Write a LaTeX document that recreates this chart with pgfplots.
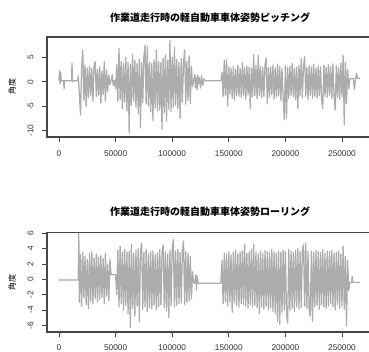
\documentclass[border=0pt]{standalone}
\usepackage{fontspec}
\setmainfont{Liberation Sans}
\newfontfamily\cjk{Noto Sans CJK JP}
\usepackage{pgfplots}
\pgfplotsset{compat=1.18}
\definecolor{sig}{RGB}{172,172,172}
\definecolor{axc}{RGB}{70,70,70}
\pgfplotsset{rstyle/.style={
 scale only axis, width=326bp, height=100bp, anchor=south west,
 axis lines=box, clip mode=individual,
 axis line style={draw=axc, line width=1.2bp},
 tick style={draw=axc, line width=0.7bp},
 tick align=outside, xtick pos=bottom, ytick pos=left, major tick length=5bp,
 scaled x ticks=false, scaled y ticks=false,
 ticklabel style={font=\fontsize{8.3bp}{9bp}\selectfont, text=black!80},
 xticklabel style={yshift=-5bp},
 yticklabel style={rotate=90, anchor=south, yshift=5bp},
 xmin=-10600, xmax=277400,
 xtick={0,50000,100000,150000,200000,250000},
 xticklabels={0,50000,100000,150000,200000,250000},
 title style={font=\cjk\bfseries\fontsize{10bp}{12bp}\selectfont, at={(axis description cs:0.5,1)}, anchor=center, yshift=13bp},
 ylabel style={font=\cjk\fontsize{8bp}{9bp}\selectfont, at={(axis description cs:0,0.5)}, anchor=center, yshift=35bp},
 sigline/.style={color=sig, line width=1.25bp, line join=round, mark=none},
}}
\begin{document}
\begin{tikzpicture}
\path[use as bounding box] (0,0) rectangle (369bp,352bp);
\clip (0,0) rectangle (369bp,352bp);
\begin{axis}[rstyle, at={(47bp,215bp)}, ymin=-11.33, ymax=9.16, ytick={-10,-5,0,5}, yticklabels={-10,-5,0,5},
 title={作業道走行時の軽自動車車体姿勢ピッチング}, ylabel={角度}]
\addplot[sigline] table {
0 0.2
500 2.3
1000 -0.4
1500 1.9
2000 0.2
4000 0.2
4500 -1.4
5000 0.2
11000 0.2
11500 3.8
12000 0.0
12500 0.2
16500 0.2
17000 1.2
18000 -2.5
19000 -6.8
20000 3.0
21000 6.5
22000 -3.8
23000 3.4
24000 -5.1
25000 2.8
26000 -3.2
27000 3.1
28000 -2.9
29000 2.7
30000 -4.0
31000 3.2
32000 4.1
33000 -3.0
34000 2.5
35000 -2.8
36000 3.0
37000 -4.4
38000 2.2
39000 -2.6
40000 4.1
41000 -4.0
42000 2.4
43000 -2.0
44000 1.4
45000 -0.6
46000 0.3
47000 1.4
47500 0.1
48000 -0.8
49000 0.3
50000 -1.5
51000 3.5
52000 -4.0
53000 6.8
54000 -3.6
55000 4.2
56000 -5.5
57000 3.8
58000 -4.2
59000 5.0
60000 -6.0
61000 4.0
62000 -10.5
63000 3.6
64000 -4.8
65000 5.6
66000 -3.9
67000 4.4
68000 -5.2
69000 3.7
70000 -6.5
71000 4.6
72000 -9.5
73000 3.9
74000 -4.3
75000 5.2
76000 7.5
77000 -4.6
78000 7.2
79000 -5.0
80000 4.0
81000 -6.2
82000 3.8
83000 -8.0
84000 4.5
85000 -5.4
86000 6.5
87000 -6.0
88000 4.1
89000 -5.8
90000 3.9
91000 -9.8
92000 4.8
93000 -6.4
94000 5.5
95000 -8.0
96000 4.4
97000 -5.6
98000 8.5
99000 -6.1
100000 5.0
101000 -5.2
102000 7.0
103000 -4.8
104000 4.6
105000 -5.5
106000 4.0
107000 -7.5
108000 4.8
109000 -4.2
110000 3.9
111000 6.5
112000 -4.6
113000 4.2
114000 -3.8
115000 5.3
116000 -4.5
117000 3.2
118000 -1.0
119000 0.2
120000 1.5
120500 -1.2
121000 0.8
122000 -1.7
122500 1.4
123000 -0.5
124000 0.9
125000 -1.3
126000 1.2
127000 -0.8
128000 0.6
129000 0.2
143000 0.2
144000 2.0
145000 -3.0
146000 4.4
147000 -2.8
148000 4.5
149000 -5.0
150000 3.0
151000 -2.6
152000 2.8
153000 -3.4
154000 3.1
155000 -3.7
156000 2.6
157000 -2.9
158000 3.4
159000 -3.0
160000 2.7
161000 -3.2
162000 3.9
163000 -2.8
164000 2.9
165000 -3.6
166000 3.2
167000 -2.7
168000 3.0
169000 -5.5
170000 2.8
171000 -3.1
172000 5.5
173000 -2.9
174000 3.3
175000 -3.5
176000 5.4
177000 -2.8
178000 3.1
179000 -3.3
180000 2.9
181000 -3.0
182000 3.5
183000 4.8
184000 -4.5
185000 2.9
186000 -3.2
187000 3.0
188000 -2.7
189000 3.4
190000 -3.5
191000 2.8
192000 -3.0
193000 3.6
194000 -2.9
195000 3.1
196000 -3.8
197000 2.7
198000 -3.2
199000 -7.8
200000 3.3
201000 -7.5
202000 2.9
203000 -3.4
204000 3.2
205000 -2.8
206000 3.8
207000 -3.1
208000 2.7
209000 -3.6
210000 3.0
211000 -5.5
212000 3.4
213000 -2.9
214000 4.8
215000 -3.3
216000 3.1
217000 5.1
218000 -3.0
219000 2.9
220000 -3.7
221000 3.3
222000 -2.8
223000 3.0
224000 -3.4
225000 3.6
226000 -3.0
227000 2.8
228000 -3.3
229000 3.2
230000 -2.9
231000 3.0
232000 -3.6
233000 -5.5
234000 3.4
235000 -3.0
236000 2.9
237000 -3.2
238000 3.5
239000 -2.8
240000 3.1
241000 -3.4
242000 3.7
243000 -3.0
244000 -5.8
245000 3.3
246000 -3.2
247000 2.9
248000 -3.6
249000 3.8
250000 -3.1
251000 5.4
252000 -8.8
253000 4.0
254000 -4.5
255000 2.5
256000 -1.5
257000 0.6
260000 0.7
261000 -1.6
262000 0.7
263000 1.7
263500 0.7
266000 0.7
};
\draw[axc, line width=1.2bp] (axis cs:-10600,9.16) -- (axis cs:277400,9.16);
\end{axis}
\begin{axis}[rstyle, at={(47bp,20bp)}, height=99.3bp, ymin=-6.87, ymax=6.08, ytick={-6,-4,-2,0,2,4,6}, yticklabels={-6,-4,-2,0,2,4,6},
 title={作業道走行時の軽自動車車体姿勢ローリング}, ylabel={角度},
 title style={yshift=1.7bp}, xticklabel style={yshift=1bp}]
\addplot[sigline] table {
0 -0.1
17000 -0.1
17500 6.0
18000 -3.0
19000 3.2
20000 -3.5
21000 3.5
22000 -2.4
23000 3.0
24000 -3.3
25000 2.6
26000 -3.8
27000 3.4
28000 -2.9
29000 3.6
30000 -3.2
31000 2.8
32000 -2.5
33000 3.3
34000 -3.0
35000 2.9
36000 -2.6
37000 3.1
38000 -2.4
39000 2.7
40000 -3.2
41000 3.4
42000 -2.2
43000 2.0
44000 -2.8
45000 2.6
46000 0.6
50000 0.6
51000 -2.0
52000 3.8
53000 -3.6
54000 4.3
55000 -3.2
56000 3.5
57000 -4.0
58000 3.9
59000 -3.4
60000 3.6
61000 -4.5
62000 3.7
63000 -6.3
64000 4.6
65000 -3.8
66000 3.4
67000 -4.8
68000 3.8
69000 -3.5
70000 4.0
71000 -5.5
72000 3.6
73000 4.7
74000 -3.9
75000 3.5
76000 -3.6
77000 3.9
78000 -4.2
79000 3.3
80000 -3.7
81000 3.6
82000 -3.8
83000 3.7
84000 -3.4
85000 3.2
86000 -4.0
87000 3.5
88000 -3.6
89000 3.9
90000 -3.3
91000 3.4
92000 4.5
93000 -3.7
94000 3.6
95000 -4.1
96000 3.3
97000 -5.0
98000 3.8
99000 -3.5
100000 4.0
101000 5.2
102000 -3.6
103000 3.7
104000 -3.4
105000 3.9
106000 -3.2
107000 3.5
108000 -3.1
109000 3.8
110000 5.0
111000 -3.3
112000 3.6
113000 -3.0
114000 3.4
115000 -2.8
116000 3.0
117000 -2.5
118000 1.0
119000 -0.5
120000 -0.5
121000 0.6
121500 -1.4
122000 0.4
123000 -0.5
143000 -0.5
144000 2.5
145000 -3.2
146000 3.4
147000 -2.9
148000 3.3
149000 -3.5
150000 3.6
151000 -3.0
152000 3.2
153000 -4.3
154000 3.5
155000 -3.1
156000 3.8
157000 -3.4
158000 3.3
159000 -3.6
160000 3.5
161000 -3.2
162000 3.7
163000 -3.3
164000 4.6
165000 -3.5
166000 3.4
167000 -3.8
168000 3.6
169000 -3.3
170000 3.9
171000 -3.6
172000 4.6
173000 -3.4
174000 3.5
175000 -3.7
176000 3.3
177000 -4.5
178000 3.7
179000 -3.6
180000 3.4
181000 -3.9
182000 3.8
183000 -3.5
184000 3.6
185000 -4.0
186000 3.5
187000 -3.7
188000 3.9
189000 -4.2
190000 3.6
191000 -4.4
192000 3.4
193000 -5.5
194000 3.7
195000 -5.9
196000 3.5
197000 -4.3
198000 3.8
199000 -4.0
200000 3.6
201000 -4.5
202000 -5.7
203000 3.9
204000 -4.1
205000 3.7
206000 -3.8
207000 3.5
208000 -4.2
209000 3.8
210000 -3.6
211000 4.0
212000 -3.9
213000 3.6
214000 -3.7
215000 3.9
216000 4.5
217000 -3.5
218000 4.7
219000 -3.8
220000 3.6
221000 -4.0
222000 -4.8
223000 3.7
224000 -5.5
225000 3.5
226000 -3.6
227000 3.8
228000 -3.4
229000 3.6
230000 -3.9
231000 3.5
232000 -3.3
233000 3.9
234000 -3.6
235000 3.4
236000 -3.8
237000 3.7
238000 -3.5
239000 3.6
240000 -3.2
241000 3.8
242000 -3.6
243000 3.4
244000 -4.0
245000 3.5
246000 -3.3
247000 3.7
248000 -3.8
249000 3.3
250000 -3.5
251000 4.3
252000 -3.9
253000 3.0
254000 -6.1
255000 2.5
256000 -1.5
257000 -0.4
258500 -0.4
259000 0.4
259500 -0.4
266000 -0.4
};
\draw[axc, line width=1.2bp] (axis cs:-10600,6.08) -- (axis cs:277400,6.08);
\end{axis}
\end{tikzpicture}
\end{document}
